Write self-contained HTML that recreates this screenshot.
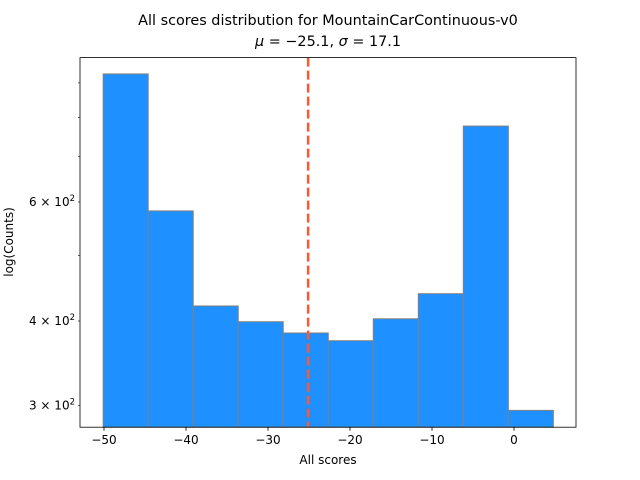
<!DOCTYPE html>
<html><head><meta charset="utf-8"><style>
body{margin:0;background:#fff}
svg{display:block;font-family:"DejaVu Sans","Liberation Sans",sans-serif}
</style></head><body>
<svg id="chart" width="640" height="480" viewBox="0 0 640 480" xmlns="http://www.w3.org/2000/svg">
<rect width="640" height="480" fill="#fff"/>
<text x="328" y="25" text-anchor="middle" font-size="14.4">All scores distribution for MountainCarContinuous-v0</text>
<text x="328" y="46" text-anchor="middle" font-size="14.4"><tspan font-style="italic">μ</tspan> = −25.1, <tspan font-style="italic">σ</tspan> = 17.1</text>
<g id="plot"></g>
<text x="328" y="464" text-anchor="middle" font-size="12">All scores</text>
<text transform="translate(13,242) rotate(-90)" text-anchor="middle" font-size="12">log(Counts)</text>
</svg>
<script>
const binStart = -50.1;
const binEnd = 4.8;
const counts = [928, 582, 421, 399, 384, 374, 403, 439, 777, 295];
const meanValue = -25.1;
const xTicks = [-50, -40, -30, -20, -10, 0];
const yMajorTicks = [300, 400, 600];
const yMajorLabels = ["3", "4", "6"];
const yMinorTicks = [500, 700, 800, 900];

const L=80,R=576,T=57.6,B=427.2;
const xs=v=>104+(v+50)*8.2;
const ys=v=>321-676*(Math.log10(v)-Math.log10(400));
const NS="http://www.w3.org/2000/svg";
const g=document.getElementById('plot');
function mk(t,a){const e=document.createElementNS(NS,t);for(const k in a)e.setAttribute(k,a[k]);g.appendChild(e);return e;}
const w=(binEnd-binStart)/counts.length;
counts.forEach((c,i)=>{
  const x0=xs(binStart+i*w),x1=xs(binStart+(i+1)*w),y=ys(c);
  const r=mk('rect',{x:x0,y:y,width:x1-x0,height:B-y,fill:'#1e90ff',stroke:'#808080','stroke-width':1});
  
  
});
const ml=mk('line',{x1:xs(meanValue),x2:xs(meanValue),y1:T,y2:B,stroke:'#ff5733','stroke-width':2.5,'stroke-dasharray':'9,4'});


const fr=mk('rect',{x:L,y:T,width:R-L,height:B-T,fill:'none',stroke:'#000','stroke-width':0.8});


xTicks.forEach(v=>{
  const x=xs(v);
  mk('line',{x1:x,x2:x,y1:B,y2:B+3.5,stroke:'#000','stroke-width':0.8});
  const t=mk('text',{x:x,y:B+17,'text-anchor':'middle','font-size':12});
  t.textContent=(v<0?'−':'')+Math.abs(v);
  
  
});
yMajorTicks.forEach((v,i)=>{
  const y=ys(v);
  mk('line',{x1:L-2,x2:L,y1:y,y2:y,stroke:'#000','stroke-width':0.6});
  const t=mk('text',{x:L-5,y:y+4,'text-anchor':'end','font-size':12});
  t.innerHTML=yMajorLabels[i]+' × 10<tspan dy="-5" font-size="8.5">2</tspan>';
  
  
});
yMinorTicks.forEach(v=>{
  const y=ys(v);
  mk('line',{x1:L-2,x2:L,y1:y,y2:y,stroke:'#000','stroke-width':0.6});
});
</script>
</body></html>
